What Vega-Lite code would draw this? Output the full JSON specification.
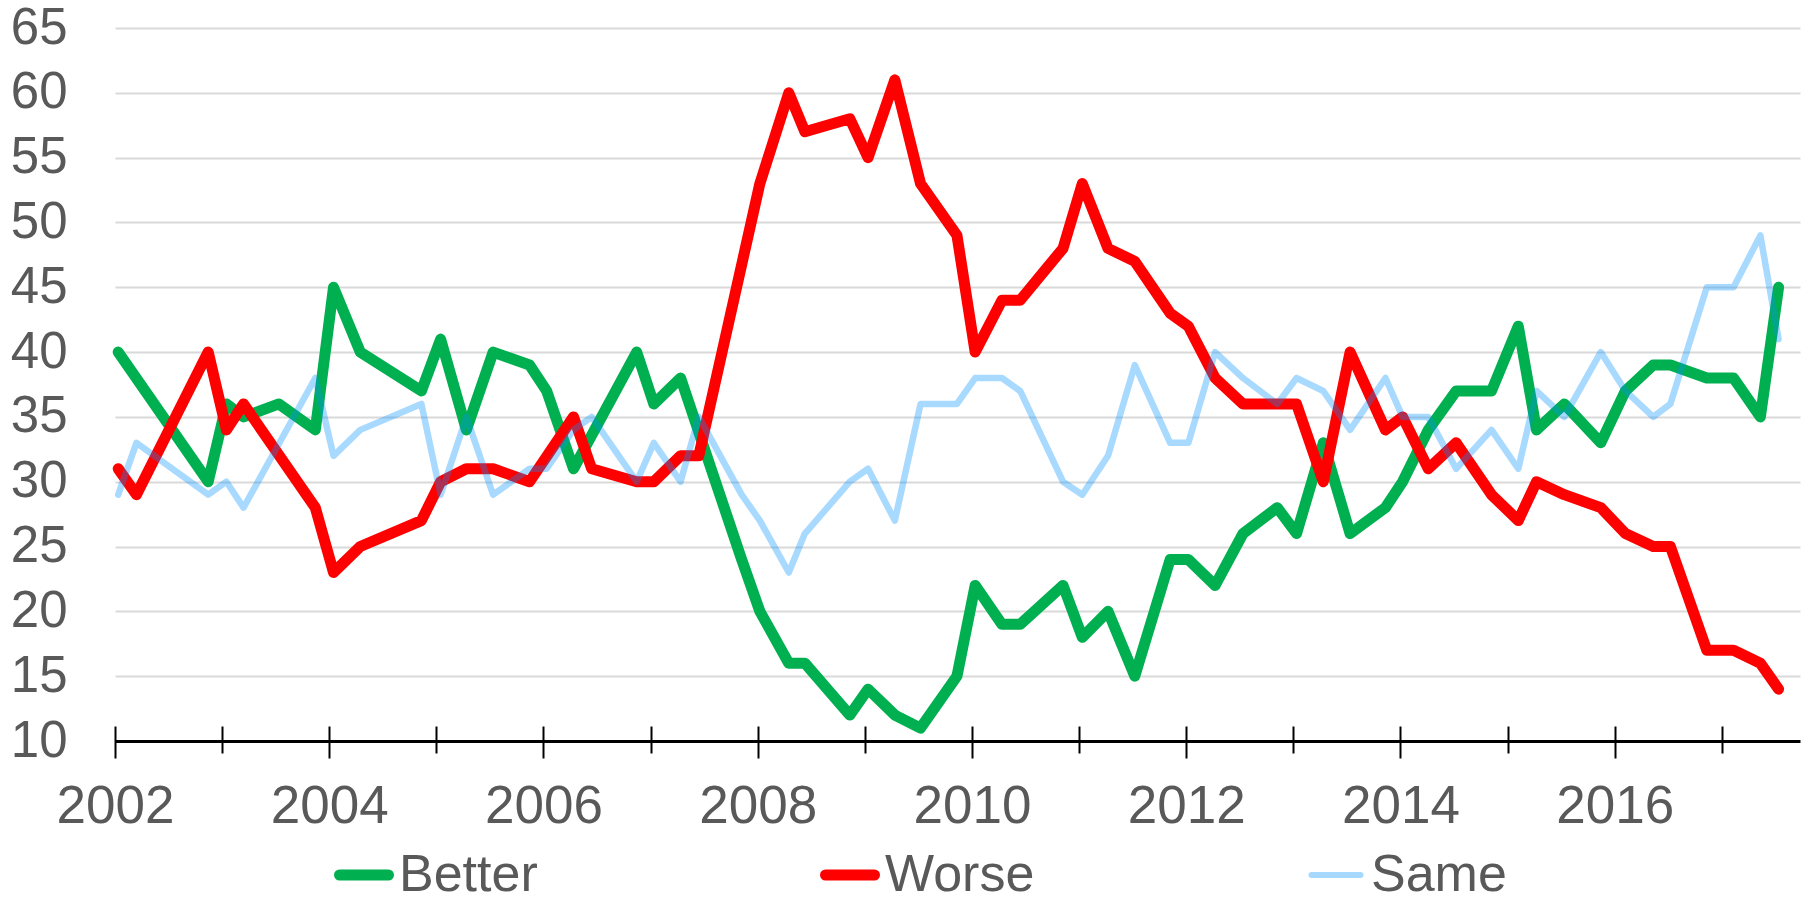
{
  "$schema": "https://vega.github.io/schema/vega-lite/v6.json",
  "width": 1685,
  "height": 713,
  "autosize": {"type": "none"},
  "padding": {"left": 115, "top": 28, "right": 8, "bottom": 156},
  "background": "white",
  "config": {"view": {"stroke": null}, "font": "Liberation Sans"},
  "data": {"values": [
    {"t": 2002.03, "s": "Better", "v": 40}, {"t": 2002.03, "s": "Worse", "v": 31}, {"t": 2002.03, "s": "Same", "v": 29},
    {"t": 2002.20, "s": "Worse", "v": 29}, {"t": 2002.20, "s": "Same", "v": 33},
    {"t": 2002.87, "s": "Better", "v": 30}, {"t": 2002.87, "s": "Worse", "v": 40}, {"t": 2002.87, "s": "Same", "v": 29},
    {"t": 2003.04, "s": "Better", "v": 36}, {"t": 2003.04, "s": "Worse", "v": 34}, {"t": 2003.04, "s": "Same", "v": 30},
    {"t": 2003.20, "s": "Better", "v": 35}, {"t": 2003.20, "s": "Worse", "v": 36}, {"t": 2003.20, "s": "Same", "v": 28},
    {"t": 2003.53, "s": "Better", "v": 36},
    {"t": 2003.87, "s": "Better", "v": 34}, {"t": 2003.87, "s": "Worse", "v": 28}, {"t": 2003.87, "s": "Same", "v": 38},
    {"t": 2004.04, "s": "Better", "v": 45}, {"t": 2004.04, "s": "Worse", "v": 23}, {"t": 2004.04, "s": "Same", "v": 32},
    {"t": 2004.29, "s": "Better", "v": 40}, {"t": 2004.29, "s": "Worse", "v": 25}, {"t": 2004.29, "s": "Same", "v": 34},
    {"t": 2004.86, "s": "Better", "v": 37}, {"t": 2004.86, "s": "Worse", "v": 27}, {"t": 2004.86, "s": "Same", "v": 36},
    {"t": 2005.04, "s": "Better", "v": 41}, {"t": 2005.04, "s": "Worse", "v": 30}, {"t": 2005.04, "s": "Same", "v": 29},
    {"t": 2005.28, "s": "Better", "v": 34}, {"t": 2005.28, "s": "Worse", "v": 31}, {"t": 2005.28, "s": "Same", "v": 35},
    {"t": 2005.53, "s": "Better", "v": 40}, {"t": 2005.53, "s": "Worse", "v": 31}, {"t": 2005.53, "s": "Same", "v": 29},
    {"t": 2005.87, "s": "Better", "v": 39}, {"t": 2005.87, "s": "Worse", "v": 30}, {"t": 2005.87, "s": "Same", "v": 31},
    {"t": 2006.03, "s": "Better", "v": 37}, {"t": 2006.03, "s": "Same", "v": 31},
    {"t": 2006.28, "s": "Better", "v": 31}, {"t": 2006.28, "s": "Worse", "v": 35}, {"t": 2006.28, "s": "Same", "v": 34},
    {"t": 2006.45, "s": "Worse", "v": 31}, {"t": 2006.45, "s": "Same", "v": 35},
    {"t": 2006.87, "s": "Better", "v": 40}, {"t": 2006.87, "s": "Worse", "v": 30}, {"t": 2006.87, "s": "Same", "v": 30},
    {"t": 2007.03, "s": "Better", "v": 36}, {"t": 2007.03, "s": "Worse", "v": 30}, {"t": 2007.03, "s": "Same", "v": 33},
    {"t": 2007.28, "s": "Better", "v": 38}, {"t": 2007.28, "s": "Worse", "v": 32}, {"t": 2007.28, "s": "Same", "v": 30},
    {"t": 2007.45, "s": "Worse", "v": 32}, {"t": 2007.45, "s": "Same", "v": 35},
    {"t": 2007.85, "s": "Better", "v": 24}, {"t": 2007.85, "s": "Same", "v": 29},
    {"t": 2008.02, "s": "Better", "v": 20}, {"t": 2008.02, "s": "Worse", "v": 53}, {"t": 2008.02, "s": "Same", "v": 27},
    {"t": 2008.29, "s": "Better", "v": 16}, {"t": 2008.29, "s": "Worse", "v": 60}, {"t": 2008.29, "s": "Same", "v": 23},
    {"t": 2008.44, "s": "Better", "v": 16}, {"t": 2008.44, "s": "Worse", "v": 57}, {"t": 2008.44, "s": "Same", "v": 26},
    {"t": 2008.86, "s": "Better", "v": 12}, {"t": 2008.86, "s": "Worse", "v": 58}, {"t": 2008.86, "s": "Same", "v": 30},
    {"t": 2009.03, "s": "Better", "v": 14}, {"t": 2009.03, "s": "Worse", "v": 55}, {"t": 2009.03, "s": "Same", "v": 31},
    {"t": 2009.28, "s": "Better", "v": 12}, {"t": 2009.28, "s": "Worse", "v": 61}, {"t": 2009.28, "s": "Same", "v": 27},
    {"t": 2009.52, "s": "Better", "v": 11}, {"t": 2009.52, "s": "Worse", "v": 53}, {"t": 2009.52, "s": "Same", "v": 36},
    {"t": 2009.86, "s": "Better", "v": 15}, {"t": 2009.86, "s": "Worse", "v": 49}, {"t": 2009.86, "s": "Same", "v": 36},
    {"t": 2010.03, "s": "Better", "v": 22}, {"t": 2010.03, "s": "Worse", "v": 40}, {"t": 2010.03, "s": "Same", "v": 38},
    {"t": 2010.28, "s": "Better", "v": 19}, {"t": 2010.28, "s": "Worse", "v": 44}, {"t": 2010.28, "s": "Same", "v": 38},
    {"t": 2010.45, "s": "Better", "v": 19}, {"t": 2010.45, "s": "Worse", "v": 44}, {"t": 2010.45, "s": "Same", "v": 37},
    {"t": 2010.85, "s": "Better", "v": 22}, {"t": 2010.85, "s": "Worse", "v": 48}, {"t": 2010.85, "s": "Same", "v": 30},
    {"t": 2011.03, "s": "Better", "v": 18}, {"t": 2011.03, "s": "Worse", "v": 53}, {"t": 2011.03, "s": "Same", "v": 29},
    {"t": 2011.27, "s": "Better", "v": 20}, {"t": 2011.27, "s": "Worse", "v": 48}, {"t": 2011.27, "s": "Same", "v": 32},
    {"t": 2011.52, "s": "Better", "v": 15}, {"t": 2011.52, "s": "Worse", "v": 47}, {"t": 2011.52, "s": "Same", "v": 39},
    {"t": 2011.85, "s": "Better", "v": 24}, {"t": 2011.85, "s": "Worse", "v": 43}, {"t": 2011.85, "s": "Same", "v": 33},
    {"t": 2012.02, "s": "Better", "v": 24}, {"t": 2012.02, "s": "Worse", "v": 42}, {"t": 2012.02, "s": "Same", "v": 33},
    {"t": 2012.27, "s": "Better", "v": 22}, {"t": 2012.27, "s": "Worse", "v": 38}, {"t": 2012.27, "s": "Same", "v": 40},
    {"t": 2012.53, "s": "Better", "v": 26}, {"t": 2012.53, "s": "Worse", "v": 36}, {"t": 2012.53, "s": "Same", "v": 38},
    {"t": 2012.85, "s": "Better", "v": 28}, {"t": 2012.85, "s": "Worse", "v": 36}, {"t": 2012.85, "s": "Same", "v": 36},
    {"t": 2013.03, "s": "Better", "v": 26}, {"t": 2013.03, "s": "Worse", "v": 36}, {"t": 2013.03, "s": "Same", "v": 38},
    {"t": 2013.28, "s": "Better", "v": 33}, {"t": 2013.28, "s": "Worse", "v": 30}, {"t": 2013.28, "s": "Same", "v": 37},
    {"t": 2013.53, "s": "Better", "v": 26}, {"t": 2013.53, "s": "Worse", "v": 40}, {"t": 2013.53, "s": "Same", "v": 34},
    {"t": 2013.86, "s": "Better", "v": 28}, {"t": 2013.86, "s": "Worse", "v": 34}, {"t": 2013.86, "s": "Same", "v": 38},
    {"t": 2014.02, "s": "Better", "v": 30}, {"t": 2014.02, "s": "Worse", "v": 35}, {"t": 2014.02, "s": "Same", "v": 35},
    {"t": 2014.26, "s": "Better", "v": 34}, {"t": 2014.26, "s": "Worse", "v": 31}, {"t": 2014.26, "s": "Same", "v": 35},
    {"t": 2014.52, "s": "Better", "v": 37}, {"t": 2014.52, "s": "Worse", "v": 33}, {"t": 2014.52, "s": "Same", "v": 31},
    {"t": 2014.85, "s": "Better", "v": 37}, {"t": 2014.85, "s": "Worse", "v": 29}, {"t": 2014.85, "s": "Same", "v": 34},
    {"t": 2015.10, "s": "Better", "v": 42}, {"t": 2015.10, "s": "Worse", "v": 27}, {"t": 2015.10, "s": "Same", "v": 31},
    {"t": 2015.27, "s": "Better", "v": 34}, {"t": 2015.27, "s": "Worse", "v": 30}, {"t": 2015.27, "s": "Same", "v": 37},
    {"t": 2015.53, "s": "Better", "v": 36}, {"t": 2015.53, "s": "Worse", "v": 29}, {"t": 2015.53, "s": "Same", "v": 35},
    {"t": 2015.87, "s": "Better", "v": 33}, {"t": 2015.87, "s": "Worse", "v": 28}, {"t": 2015.87, "s": "Same", "v": 40},
    {"t": 2016.10, "s": "Better", "v": 37}, {"t": 2016.10, "s": "Worse", "v": 26}, {"t": 2016.10, "s": "Same", "v": 37},
    {"t": 2016.36, "s": "Better", "v": 39}, {"t": 2016.36, "s": "Worse", "v": 25}, {"t": 2016.36, "s": "Same", "v": 35},
    {"t": 2016.52, "s": "Better", "v": 39}, {"t": 2016.52, "s": "Worse", "v": 25}, {"t": 2016.52, "s": "Same", "v": 36},
    {"t": 2016.86, "s": "Better", "v": 38}, {"t": 2016.86, "s": "Worse", "v": 17}, {"t": 2016.86, "s": "Same", "v": 45},
    {"t": 2017.11, "s": "Better", "v": 38}, {"t": 2017.11, "s": "Worse", "v": 17}, {"t": 2017.11, "s": "Same", "v": 45},
    {"t": 2017.36, "s": "Better", "v": 35}, {"t": 2017.36, "s": "Worse", "v": 16}, {"t": 2017.36, "s": "Same", "v": 49},
    {"t": 2017.53, "s": "Better", "v": 45}, {"t": 2017.53, "s": "Worse", "v": 14}, {"t": 2017.53, "s": "Same", "v": 41}
  ]},
  "encoding": {
    "x": {
      "field": "t", "type": "quantitative",
      "scale": {"domain": [2002, 2017.73], "nice": false, "zero": false},
      "axis": {
        "title": null,
        "values": [2002, 2003, 2004, 2005, 2006, 2007, 2008, 2009, 2010, 2011, 2012, 2013, 2014, 2015, 2016, 2017],
        "labelExpr": "datum.value % 2 === 0 ? '' + datum.value : ''",
        "grid": false, "domain": false,
        "offset": -15,
        "tickSize": {"condition": {"test": "datum.value % 2 === 0", "value": 32}, "value": 27},
        "tickColor": "black", "tickWidth": 2,
        "labelFont": "Liberation Sans", "labelFontSize": 53, "labelColor": "#595959",
        "labelPadding": 22, "labelFlush": false, "labelOverlap": false
      }
    },
    "y": {
      "field": "v", "type": "quantitative",
      "scale": {"domain": [10, 65], "nice": false, "zero": false},
      "axis": {
        "title": null,
        "values": [10, 15, 20, 25, 30, 35, 40, 45, 50, 55, 60, 65],
        "domain": false, "ticks": false,
        "labelFont": "Liberation Sans", "labelFontSize": 51, "labelColor": "#595959",
        "labelPadding": 48,
        "gridColor": {"condition": {"test": "datum.value === 10", "value": "black"}, "value": "#d9d9d9"},
        "gridWidth": {"condition": {"test": "datum.value === 10", "value": 3}, "value": 2}
      }
    },
    "color": {
      "field": "s", "type": "nominal",
      "scale": {"domain": ["Better", "Worse", "Same"], "range": ["#00b050", "#ff0000", "#0091ff"]},
      "legend": {
        "title": null, "orient": "none", "legendX": 223, "legendY": 821,
        "direction": "horizontal", "columns": 3, "gridAlign": "all", "columnPadding": 254,
        "padding": 0,
        "labelFont": "Liberation Sans", "labelFontSize": 52, "labelColor": "#595959",
        "labelOffset": 9, "labelLimit": 400,
        "symbolType": "stroke", "symbolSize": 2401, "symbolStrokeWidth": 11,
        "encode": {"symbols": {"update": {
          "strokeWidth": {"signal": "datum.value === 'Same' ? 6 : 11"},
          "opacity": {"signal": "datum.value === 'Same' ? 0.34 : 1"},
          "strokeCap": {"value": "round"}
        }}}
      }
    }
  },
  "layer": [
    {
      "transform": [{"filter": "datum.s !== 'Same'"}],
      "mark": {"type": "line", "strokeWidth": 11, "strokeJoin": "round", "strokeCap": "round"}
    },
    {
      "transform": [{"filter": "datum.s === 'Same'"}],
      "mark": {"type": "line", "strokeWidth": 6.5, "opacity": 0.34, "strokeJoin": "round", "strokeCap": "round"}
    }
  ]
}
